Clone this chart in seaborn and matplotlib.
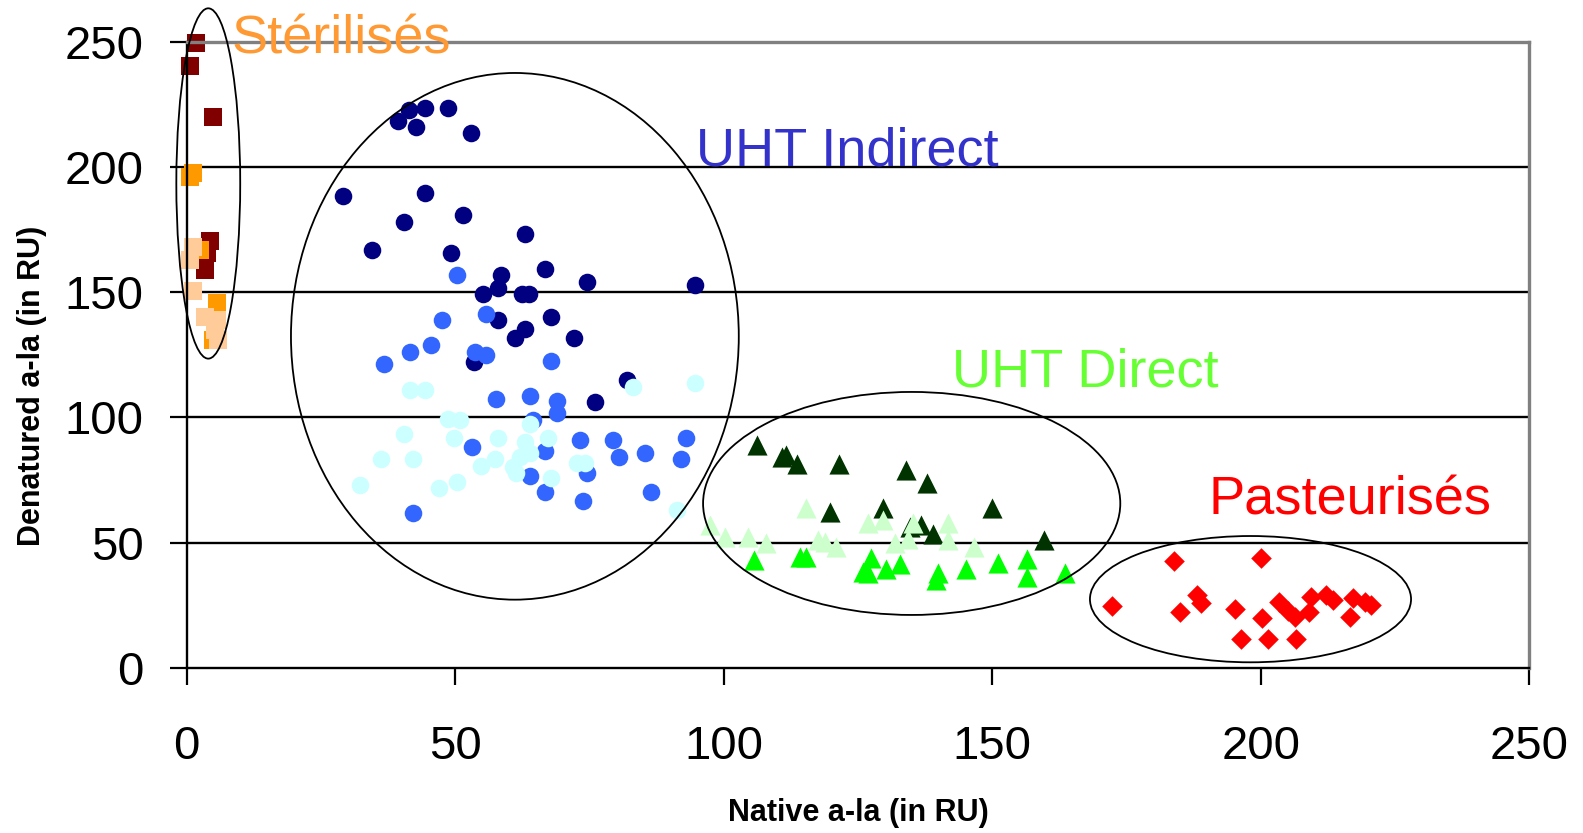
import seaborn as sns
import matplotlib.pyplot as plt
from matplotlib.patches import Ellipse

# Stérilisés (squares)
steril_dark_x = [1.65, 0.6, 4.9, 4.4, 3.7, 3.3]
steril_dark_y = [249.5, 240.2, 220.0, 170.5, 165.5, 159.0]
steril_orange_x = [1.1, 0.6, 2.5, 5.6, 4.9]
steril_orange_y = [197.4, 196.0, 166.8, 145.5, 131.0]
steril_light_x = [1.2, 0.6, 1.1, 3.4, 5.6, 5.9, 5.3]
steril_light_y = [168.0, 162.8, 150.5, 140.0, 138.8, 131.0, 135.0]

# UHT Indirect (circles)
indirect_dark_x = [39.4, 41.4, 44.3, 42.6, 48.7, 53.0, 29.0, 44.3, 40.5, 51.4, 34.4, 49.2, 63.0, 58.5, 58.0,
                   55.2, 66.7, 74.5, 94.6, 62.5, 63.7, 58.0, 63.0, 67.8, 72.1, 61.1, 53.5, 82.0, 76.0]
indirect_dark_y = [218.4, 222.6, 223.7, 216.0, 223.7, 213.6, 188.3, 189.6, 178.1, 180.7, 166.8, 165.5, 173.2, 156.8, 151.5,
                   149.1, 159.1, 154.1, 152.9, 149.1, 149.1, 138.8, 135.5, 140.2, 131.9, 131.9, 122.2, 114.9, 106.2]
indirect_mid_x = [50.3, 55.8, 47.6, 36.7, 41.6, 45.4, 53.7, 55.8, 67.8, 57.5, 64.0, 69.0, 69.0, 64.5, 53.1,
                  66.8, 73.3, 79.3, 80.5, 85.3, 92.9, 92.0, 64.0, 74.5, 66.8, 73.8, 86.4, 42.2]
indirect_mid_y = [156.8, 141.5, 139.1, 121.3, 126.2, 128.9, 126.2, 124.9, 122.4, 107.2, 108.5, 106.5, 101.9, 98.9, 88.3,
                  86.7, 91.0, 91.0, 84.3, 85.7, 92.0, 83.3, 76.7, 77.7, 70.3, 66.6, 70.3, 61.7]
indirect_light_x = [41.6, 44.3, 48.7, 50.9, 49.8, 40.5, 36.1, 42.2, 32.2, 47.0, 50.3, 54.7, 57.4, 58.0,
                    63.9, 67.3, 63.0, 63.9, 62.0, 60.8, 61.3, 67.8, 72.6, 74.1, 83.1, 94.6, 91.3]
indirect_light_y = [110.9, 110.9, 99.6, 98.9, 92.0, 93.4, 83.3, 83.3, 73.0, 71.7, 74.3, 80.6, 83.3, 92.0,
                    97.4, 92.0, 90.3, 85.7, 84.3, 80.3, 77.7, 75.7, 81.9, 81.9, 112.2, 113.6, 63.0]

# UHT Direct (triangles)
direct_dark_x = [106.1, 110.8, 111.6, 113.7, 121.4, 134.0, 137.8, 119.8, 129.7, 149.9, 136.8, 139.0, 159.7, 134.6]
direct_dark_y = [89.0, 84.3, 85.0, 81.4, 81.4, 79.0, 73.9, 62.4, 63.7, 63.7, 57.1, 53.7, 51.1, 56.4]
direct_light_x = [97.4, 100.2, 104.5, 107.8, 115.4, 117.6, 118.8, 120.9, 126.9, 129.7, 131.9, 134.3, 135.3, 141.7, 141.7, 146.6]
direct_light_y = [57.1, 52.4, 52.4, 49.8, 63.7, 51.1, 50.4, 48.4, 57.7, 59.0, 49.8, 51.7, 57.7, 57.7, 51.1, 48.4]
direct_bright_x = [105.6, 114.2, 115.4, 127.5, 126.0, 126.9, 130.3, 132.9, 139.9, 139.6, 145.2, 151.0, 156.4, 156.4, 163.6]
direct_bright_y = [43.1, 44.4, 44.4, 43.8, 38.4, 37.8, 39.4, 41.5, 37.8, 35.1, 39.4, 41.8, 43.4, 36.4, 38.0]

# Pasteurisés (diamonds)
past_x = [183.8, 200.1, 172.3, 184.9, 188.1, 188.8, 195.3, 200.2, 196.4, 201.4, 206.6, 203.5, 205.1, 206.3,
          209.4, 209.0, 212.2, 213.5, 217.1, 216.6, 219.4, 220.6]
past_y = [42.8, 44.0, 24.9, 22.5, 29.1, 25.8, 23.5, 20.1, 11.6, 11.6, 11.6, 26.5, 22.9, 20.5,
          28.4, 22.5, 29.1, 27.1, 27.8, 20.5, 26.5, 25.1]

ticks = [0, 50, 100, 150, 200, 250]

sns.set_style("white")
plt.rcParams['font.family'] = ['Liberation Sans', 'DejaVu Sans']

fig = plt.figure(figsize=(15.83, 8.33), dpi=100)
ax = fig.add_axes([0.118, 0.198, 0.848, 0.752])

# gridlines behind the points
for t in ticks[1:-1]:
    ax.axhline(t, color="black", lw=1.7, zorder=0.5)

series = [
    (steril_dark_x, steril_dark_y, "#800000", "s", 170),
    (steril_orange_x, steril_orange_y, "#FF9900", "s", 170),
    (steril_light_x, steril_light_y, "#FFCC99", "s", 170),
    (indirect_dark_x, indirect_dark_y, "#000080", "o", 160),
    (indirect_mid_x, indirect_mid_y, "#3366FF", "o", 160),
    (indirect_light_x, indirect_light_y, "#CCFFFF", "o", 160),
    (direct_dark_x, direct_dark_y, "#003300", "^", 210),
    (direct_light_x, direct_light_y, "#CCFFCC", "^", 210),
    (direct_bright_x, direct_bright_y, "#00FF00", "^", 210),
    (past_x, past_y, "#FF0000", "D", 110),
]
for xs, ys, c, m, s in series:
    sns.scatterplot(x=xs, y=ys, ax=ax, color=c, marker=m, s=s, linewidth=0, zorder=2)
# squares hang over the axis edge in the original
for coll in ax.collections:
    coll.set_clip_on(False)

# group ellipses
ellipses = [((4.0, 193.4), 11.9, 139.8), ((61.1, 132.4), 83.4, 210.2),
            ((135.0, 65.7), 77.7, 89.0), ((198.1, 27.5), 59.8, 50.4)]
for center, w, h in ellipses:
    ax.add_patch(Ellipse(center, w, h, fill=False, edgecolor="black", lw=1.3, zorder=3, clip_on=False))

ax.text(8.4, 245.2, "Stérilisés", color="#FF9933", fontsize=39, va="baseline", zorder=4)
ax.text(94.9, 200.4, "UHT Indirect", color="#3333CC", fontsize=39, va="baseline", zorder=4)
ax.text(142.5, 112.2, "UHT Direct", color="#66FF33", fontsize=39, va="baseline", zorder=4)
ax.text(190.2, 61.1, "Pasteurisés", color="#FF0000", fontsize=39, va="baseline", zorder=4)

ax.set_xlim(0, 250)
ax.set_ylim(0, 250)
ax.set_xticks(ticks)
ax.set_yticks(ticks)
ax.tick_params(axis="both", direction="out", length=12, width=1.6, color="black",
               labelcolor="black", labelsize=34, bottom=True, left=True)
ax.tick_params(axis="x", pad=29)
ax.tick_params(axis="y", pad=19)

for side in ["left", "bottom"]:
    ax.spines[side].set_color("black")
    ax.spines[side].set_linewidth(1.7)
for side in ["top", "right"]:
    ax.spines[side].set_color("#808080")
    ax.spines[side].set_linewidth(2.4)

ax.set_xlabel("Native a-la (in RU)", fontsize=22, fontweight="bold", va="center", color="black")
ax.set_ylabel("Denatured a-la (in RU)", fontsize=22, fontweight="bold", va="center", color="black")
ax.xaxis.set_label_coords(0.5, -0.231)
ax.yaxis.set_label_coords(-0.115, 0.45)

fig.savefig("out.png", dpi=100)
